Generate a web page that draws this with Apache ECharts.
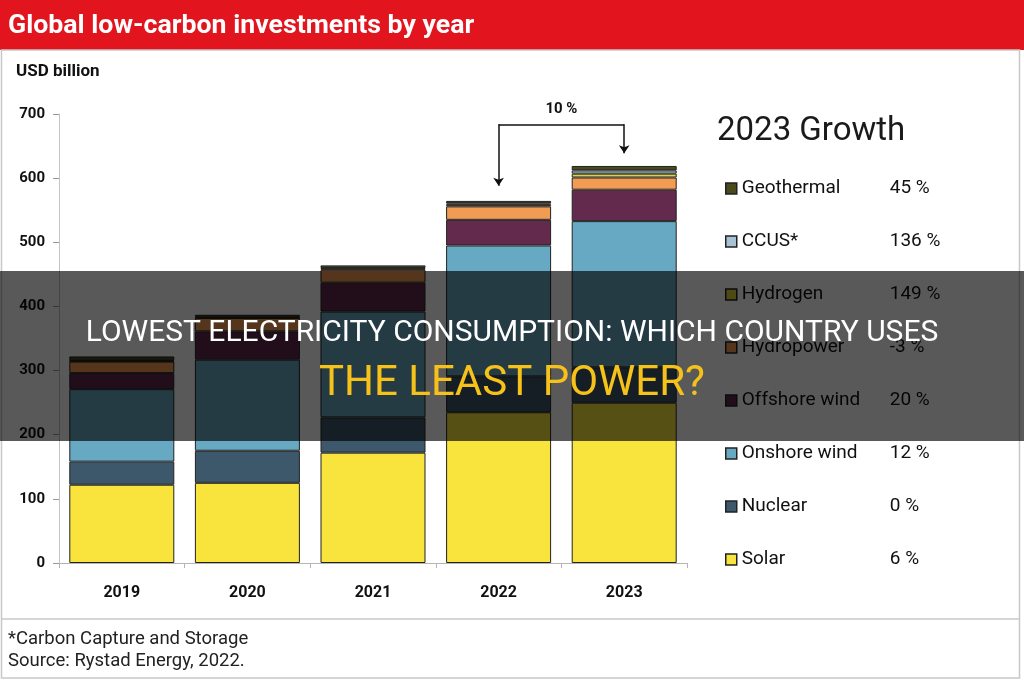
<!DOCTYPE html>
<html>
<head>
<meta charset="utf-8">
<script src="https://cdn.jsdelivr.net/npm/echarts@6/dist/echarts.min.js"></script>
<style>
  html, body { margin: 0; padding: 0; background: #fff; }
  #chart { width: 1024px; height: 680px; }
</style>
</head>
<body>
<div id="chart"></div>
<script>
var years = ['2019', '2020', '2021', '2022', '2023'];
var solar = [122, 125, 172, 235, 250];
var nuclear = [36, 50, 55, 56, 55];
var onshore = [113, 142, 165, 204, 228];
var offshore = [25, 44, 45, 40, 49];
var hydro = [18, 21, 20, 21, 19];
var hydrogen = [1, 1, 2, 2.5, 6];
var ccus = [1, 1, 1, 2, 5];
var geothermal = [6, 3, 4, 4, 7];

var seriesNames = ['Solar', 'Nuclear', 'Onshore wind', 'Offshore wind', 'Hydropower', 'Hydrogen', 'CCUS*', 'Geothermal'];
var seriesColors = ['#f8e43c', '#3d586b', '#67a8c2', '#632a4d', '#f29b52', '#e2d240', '#a9c2d3', '#4a4a1c'];
var growth = ['6 %', '0 %', '12 %', '20 %', '-3 %', '149 %', '136 %', '45 %'];
var seriesData = [solar, nuclear, onshore, offshore, hydro, hydrogen, ccus, geothermal];

var font = 'Roboto';
var chart = echarts.init(document.getElementById('chart'));

var series = seriesNames.map(function(name, i) {
  return {
    name: name,
    type: 'bar',
    stack: 'total',
    barWidth: 105,
    data: seriesData[i],
    itemStyle: { color: seriesColors[i], borderColor: '#222', borderWidth: 1 },
    emphasis: { disabled: true }
  };
});

// bracket with arrows between 2022 and 2023
series[series.length - 1].markLine = {
  silent: true,
  symbolSize: 8,
  lineStyle: { color: '#111', width: 1.5, type: 'solid' },
  label: { show: false },
  data: [
    [{ coord: ['2022', 684], symbol: 'none' }, { coord: ['2022', 588], symbol: 'arrow' }],
    [{ coord: ['2022', 684], symbol: 'none', label: { show: true, position: 'middle', formatter: '10 %', distance: 8, color: '#111', fontFamily: font, fontWeight: 'bold', fontSize: 15 } },
     { coord: ['2023', 684], symbol: 'none' }],
    [{ coord: ['2023', 684], symbol: 'none' }, { coord: ['2023', 639], symbol: 'arrow' }]
  ]
};

var growthOf = {};
seriesNames.forEach(function(n, i) { growthOf[n] = growth[i]; });

var option = {
  animation: false,
  backgroundColor: '#fff',
  textStyle: { fontFamily: font },
  grid: { left: 59, top: 114, width: 628, height: 449 },
  xAxis: {
    type: 'category',
    data: years,
    axisLine: { lineStyle: { color: '#b5b5b5' } },
    axisTick: { show: true, length: 5, lineStyle: { color: '#b5b5b5' } },
    axisLabel: { color: '#111', fontWeight: 'bold', fontSize: 16, margin: 22 }
  },
  yAxis: {
    type: 'value',
    min: 0,
    max: 700,
    interval: 100,
    splitLine: { show: false },
    axisLine: { show: true, lineStyle: { color: '#c4c4c4' } },
    axisTick: { show: true, length: 6, lineStyle: { color: '#999' } },
    axisLabel: { color: '#111', fontWeight: 'bold', fontSize: 15, margin: 14 }
  },
  legend: {
    orient: 'vertical',
    left: 720,
    top: 174,
    icon: 'rect',
    itemWidth: 11,
    itemHeight: 11,
    itemGap: 34,
    selectedMode: false,
    data: seriesNames.slice().reverse(),
    itemStyle: { borderColor: '#222', borderWidth: 1.5 },
    formatter: function(name) {
      return '{n|' + name + '}{p|' + growthOf[name] + '}';
    },
    textStyle: {
      rich: {
        n: { width: 148, fontSize: 19, color: '#111', lineHeight: 22, fontFamily: font },
        p: { fontSize: 19, color: '#111', lineHeight: 22, fontFamily: font }
      }
    }
  },
  graphic: [
    { type: 'rect', shape: { x: 0, y: 0, width: 1024, height: 50 }, style: { fill: '#e2141d' }, z: 10 },
    { type: 'text', x: 8, y: 26, style: { text: 'Global low-carbon investments by year', fill: '#fff', font: 'bold 26.7px Roboto', textVerticalAlign: 'middle' }, z: 11 },
    { type: 'text', x: 16, y: 72, style: { text: 'USD billion', fill: '#111', font: 'bold 17px Roboto', textVerticalAlign: 'middle' }, z: 11 },
    { type: 'text', x: 717, y: 132, style: { text: '2023 Growth', fill: '#1a1a1a', font: '33px Roboto', textVerticalAlign: 'middle' }, z: 11 },
    { type: 'rect', shape: { x: 1.5, y: 50, width: 1018, height: 628 }, style: { fill: 'none', stroke: '#c8c8c8', lineWidth: 1.5 }, z: 11 },
    { type: 'line', shape: { x1: 1.5, y1: 619, x2: 1019.5, y2: 619 }, style: { stroke: '#c8c8c8', lineWidth: 1.5 }, z: 11 },
    { type: 'text', x: 8, y: 639, style: { text: '*Carbon Capture and Storage', fill: '#222', font: '18.5px Roboto', textVerticalAlign: 'middle' }, z: 11 },
    { type: 'text', x: 8, y: 661, style: { text: 'Source: Rystad Energy, 2022.', fill: '#222', font: '18.5px Roboto', textVerticalAlign: 'middle' }, z: 11 },
    // dark banner laid over the picture
    { type: 'rect', shape: { x: 0, y: 271, width: 1024, height: 170 }, style: { fill: 'rgba(0,0,0,0.65)' }, z: 100 },
    { type: 'text', x: 512, y: 333, style: { text: 'LOWEST ELECTRICITY CONSUMPTION: WHICH COUNTRY USES', fill: '#fff', font: '30px Roboto', textAlign: 'center', textVerticalAlign: 'middle' }, z: 101 },
    { type: 'text', x: 512, y: 384, style: { text: 'THE LEAST POWER?', fill: '#f6c21a', font: '42px Roboto', textAlign: 'center', textVerticalAlign: 'middle' }, z: 101 }
  ],
  series: series
};

chart.setOption(option);
</script>
</body>
</html>
